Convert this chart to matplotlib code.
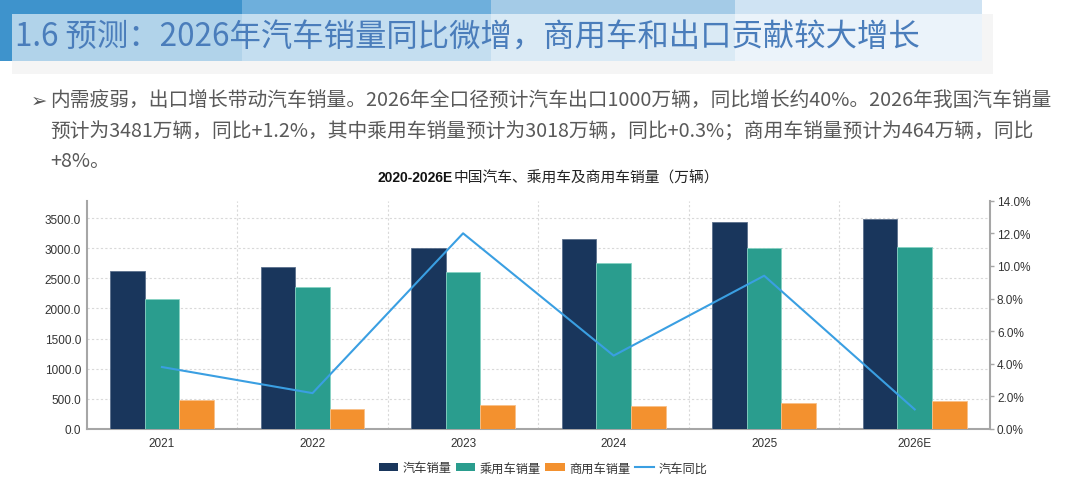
import numpy as np
import matplotlib.pyplot as plt
from matplotlib.patches import Rectangle, Patch
from matplotlib.lines import Line2D
from matplotlib.ticker import FuncFormatter, MultipleLocator

plt.rcParams['font.family'] = ['Liberation Sans', 'Noto Sans CJK SC', 'DejaVu Sans']

years = ['2021', '2022', '2023', '2024', '2025', '2026E']
car_sales = [2627.5, 2686.4, 3009.4, 3143.6, 3440.0, 3481.0]
passenger_sales = [2148.2, 2356.3, 2606.3, 2756.3, 3010.0, 3018.0]
commercial_sales = [479.3, 330.0, 403.1, 387.3, 430.0, 464.0]
car_yoy = [3.8, 2.2, 12.0, 4.5, 9.4, 1.2]

series_names = ['汽车销量', '乘用车销量', '商用车销量', '汽车同比']
title = '1.6 预测：2026年汽车销量同比微增，商用车和出口贡献较大增长'
body_lines = [
    '内需疲弱，出口增长带动汽车销量。2026年全口径预计汽车出口1000万辆，同比增长约40%。2026年我国汽车销量',
    '预计为3481万辆，同比+1.2%，其中乘用车销量预计为3018万辆，同比+0.3%；商用车销量预计为464万辆，同比',
    '+8%。',
]
chart_title_a = '2020-2026E'
chart_title_b = '中国汽车、乘用车及商用车销量（万辆）'

W, H = 1080, 489
fig = plt.figure(figsize=(W / 100, H / 100), dpi=100)
fig.patch.set_facecolor('white')


def px(x, y):
    return x / W, 1 - y / H


def box(x0, y0, x1, y1, color, alpha=1.0, z=0):
    fig.patches.append(Rectangle(px(x0, y1), (x1 - x0) / W, (y1 - y0) / H,
                                 transform=fig.transFigure, facecolor=color,
                                 edgecolor='none', alpha=alpha, zorder=z))


# banner
box(12, 15, 993, 75, '#f5f5f5', z=0)
box(0, 0, 242, 62, '#3e93cc', z=1)
box(242, 0, 491, 62, '#6eafdc', z=1)
box(491, 0, 735, 62, '#a4cbe7', z=1)
box(735, 0, 982, 62, '#cfe3f3', z=1)
box(12, 15, 982, 62, 'white', alpha=0.6, z=2)
fig.text(*px(15, 38), title, fontsize=22.6, color='#4a7dbb', fontweight='medium',
         family=['Noto Sans CJK SC'], va='center', ha='left', zorder=3)

# body text
fig.text(*px(31, 101), '➢', fontsize=14, color='#555555',
         family=['DejaVu Sans'], va='center', ha='left')
for i, line in enumerate(body_lines):
    fig.text(*px(50, 101 + i * 30.5), line, fontsize=14.2, color='#595959',
             family=['Noto Sans CJK SC'], va='center', ha='left')

# chart title
t1 = fig.text(*px(377, 178), chart_title_a, fontsize=10, fontweight='bold',
              color='#111111', family=['Liberation Sans'], va='center', ha='left')

ax = fig.add_axes([86.7 / W, 1 - 430 / H, (990 - 86.7) / W, (430 - 201.7) / H])
ax.annotate(chart_title_b, xy=(1, 0.5), xycoords=t1, xytext=(1, 0),
            textcoords='offset points', fontsize=10.6, color='#222222',
            family=['Noto Sans CJK SC'], va='center', ha='left',
            annotation_clip=False)

x = np.arange(len(years))
w = 0.23
colors = ['#19365c', '#2a9d8e', '#f3912f']
ax.bar(x - w, car_sales, w, color=colors[0], edgecolor='#5a6f8c', linewidth=0.6, zorder=3)
ax.bar(x, passenger_sales, w, color=colors[1], edgecolor='#86d2c3', linewidth=0.6, zorder=3)
ax.bar(x + w, commercial_sales, w, color=colors[2], edgecolor='#f8c08a', linewidth=0.6, zorder=3)

ax.set_xlim(-0.5, len(years) - 0.5)
ax.set_ylim(0, 3787)
ax.yaxis.set_major_locator(MultipleLocator(500))
ax.yaxis.set_major_formatter(FuncFormatter(lambda v, p: f'{v:.1f}'))
ax.set_xticks(x)
ax.set_xticklabels(years)
ax.set_xticks(x[:-1] + 0.5, minor=True)
ax.grid(axis='y', which='major', color='#d9d9d9', linestyle=(0, (2, 2)), linewidth=0.8, zorder=0)
ax.grid(axis='x', which='minor', color='#d9d9d9', linestyle=(0, (2, 2)), linewidth=0.8, zorder=0)
ax.tick_params(axis='both', which='both', length=0, labelsize=8.5, colors='#333333')
ax.tick_params(axis='x', pad=6)
ax.tick_params(axis='y', pad=4)
for s in ['top', 'right']:
    ax.spines[s].set_visible(False)
for s in ['left', 'bottom']:
    ax.spines[s].set_color('#a6a6a6')
    ax.spines[s].set_linewidth(1.5)

ax2 = ax.twinx()
ax2.plot(x, car_yoy, color='#3a9fe2', linewidth=1.5, zorder=4)
ax2.set_ylim(0, 14)
ax2.yaxis.set_major_locator(MultipleLocator(2))
ax2.yaxis.set_major_formatter(FuncFormatter(lambda v, p: f'{v:.1f}%'))
ax2.tick_params(axis='y', length=3, width=1, color='#a6a6a6', labelsize=8.5,
                labelcolor='#333333', pad=2)
for s in ['top', 'left', 'bottom']:
    ax2.spines[s].set_visible(False)
ax2.spines['right'].set_color('#a6a6a6')
ax2.spines['right'].set_linewidth(1.5)

handles = [Patch(facecolor=c) for c in colors] + [Line2D([], [], color='#3a9fe2', linewidth=1.5)]
fig.legend(handles, series_names, loc='center', bbox_to_anchor=(543 / W, 1 - 469 / H),
           ncol=4, frameon=False, prop={'family': 'Noto Sans CJK SC', 'size': 8.8},
           handlelength=1.6, handleheight=0.65, handletextpad=0.35, columnspacing=0.35,
           labelcolor='#333333')

fig.savefig('out.png', dpi=100, facecolor='white')
